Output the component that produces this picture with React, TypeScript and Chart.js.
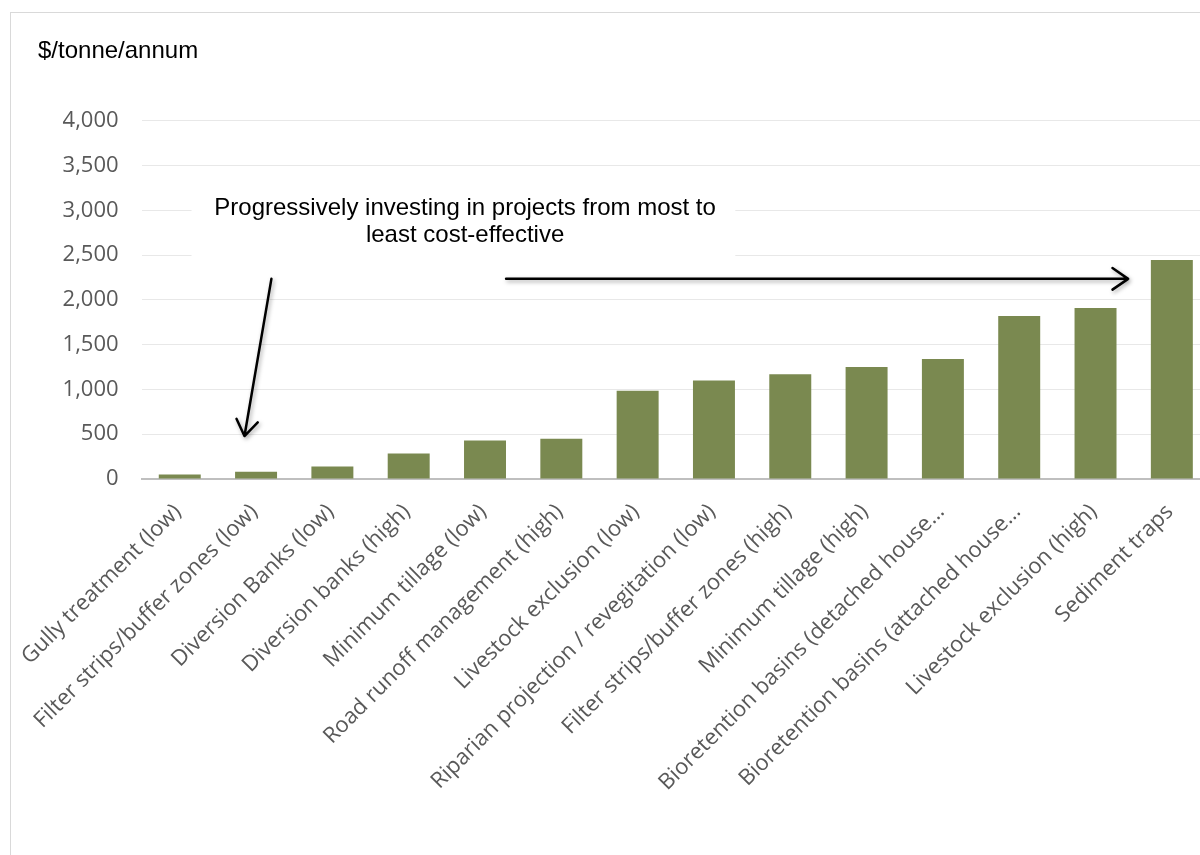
import React, { useEffect, useRef } from 'react';
import { Chart, registerables } from 'chart.js';

Chart.register(...registerables);

const categories = [
  'Gully treatment (low)',
  'Filter strips/buffer zones (low)',
  'Diversion Banks (low)',
  'Diversion banks (high)',
  'Minimum tillage (low)',
  'Road runoff management (high)',
  'Livestock exclusion (low)',
  'Riparian projection / revegitation (low)',
  'Filter strips/buffer zones (high)',
  'Minimum tillage (high)',
  'Bioretention basins (detached house…',
  'Bioretention basins (attached house…',
  'Livestock exclusion (high)',
  'Sediment traps',
];

const costValues = [50, 80, 140, 285, 430, 450, 985, 1100, 1170, 1250, 1340, 1820, 1910, 2445];

const yMin = 0;
const yMax = 4000;
const yStep = 500;

const unitTitle = '$/tonne/annum';
const annotationLines = ['Progressively investing in projects from most to', 'least cost-effective'];

const CANVAS_W = 1230;
const CANVAS_H = 842;
const AREA_BOTTOM = 466;

const annotationPlugin = {
  id: 'costAnnotation',
  beforeDatasetsDraw(chart: any) {
    const { ctx, scales } = chart;
    const x = scales.x;
    const y = scales.y;
    ctx.save();
    const bx0 = x.getPixelForValue(0.154);
    const bx1 = x.getPixelForValue(7.28);
    const by0 = y.getPixelForValue(3330);
    const by1 = y.getPixelForValue(2413);
    ctx.fillStyle = '#ffffff';
    ctx.fillRect(bx0, by0, bx1 - bx0, by1 - by0);
    ctx.fillStyle = '#000000';
    ctx.font = '24px "Liberation Sans", Arial, sans-serif';
    ctx.textAlign = 'center';
    ctx.textBaseline = 'middle';
    const tx = x.getPixelForValue(3.739);
    ctx.fillText(annotationLines[0], tx, y.getPixelForValue(3017));
    ctx.fillText(annotationLines[1], tx, y.getPixelForValue(2726));
    ctx.restore();
  },
  afterDatasetsDraw(chart: any) {
    const { ctx, scales } = chart;
    const x = scales.x;
    const y = scales.y;
    const drawArrow = (x0: number, y0: number, x1: number, y1: number) => {
      const ang = Math.atan2(y1 - y0, x1 - x0);
      const head = 19;
      const spread = Math.PI / 5.2;
      ctx.save();
      ctx.strokeStyle = '#000000';
      ctx.lineWidth = 2.5;
      ctx.lineCap = 'round';
      ctx.lineJoin = 'round';
      ctx.shadowColor = 'rgba(0,0,0,0.35)';
      ctx.shadowBlur = 4;
      ctx.shadowOffsetX = 1.5;
      ctx.shadowOffsetY = 2;
      ctx.beginPath();
      ctx.moveTo(x0, y0);
      ctx.lineTo(x1, y1);
      ctx.moveTo(x1 - head * Math.cos(ang - spread), y1 - head * Math.sin(ang - spread));
      ctx.lineTo(x1, y1);
      ctx.lineTo(x1 - head * Math.cos(ang + spread), y1 - head * Math.sin(ang + spread));
      ctx.stroke();
      ctx.restore();
    };
    drawArrow(x.getPixelForValue(1.201), y.getPixelForValue(2235), x.getPixelForValue(0.848), y.getPixelForValue(480));
    drawArrow(x.getPixelForValue(4.276), y.getPixelForValue(2235), x.getPixelForValue(12.427), y.getPixelForValue(2235));
  },
};

export default function App() {
  const canvasRef = useRef<HTMLCanvasElement | null>(null);

  useEffect(() => {
    if (!canvasRef.current) return;
    const chart = new Chart(canvasRef.current, {
      type: 'bar',
      data: {
        labels: categories,
        datasets: [
          {
            data: costValues,
            backgroundColor: '#7A8950',
            borderWidth: 0,
            barPercentage: 0.55,
            categoryPercentage: 1,
          },
        ],
      },
      options: {
        responsive: false,
        animation: false,
        devicePixelRatio: 1,
        layout: { padding: { left: 27, right: 31, top: 0, bottom: 0 } },
        plugins: {
          legend: { display: false },
          tooltip: { enabled: false },
          title: {
            display: true,
            text: unitTitle,
            align: 'start',
            color: '#000000',
            font: { family: '"Liberation Sans", Arial, sans-serif', size: 24, weight: 'normal' },
            padding: { top: 24, bottom: 55 },
          },
        },
        scales: {
          x: {
            grid: { display: false },
            border: { display: true, color: '#BFBFBF', width: 2 },
            ticks: {
              color: '#595959',
              font: { family: '"Open Sans", sans-serif', size: 22 },
              maxRotation: 45,
              minRotation: 45,
              autoSkip: false,
              padding: 12,
              labelOffset: -2,
            },
            afterFit: (scale: any) => {
              scale.height = CANVAS_H - AREA_BOTTOM;
            },
          },
          y: {
            min: yMin,
            max: yMax,
            grid: { color: '#E8E8E8', lineWidth: 1, drawTicks: false },
            border: { display: false },
            ticks: {
              stepSize: yStep,
              color: '#595959',
              font: { family: '"Open Sans", sans-serif', size: 22 },
              padding: 23,
              callback: (v: any) => Number(v).toLocaleString('en-US'),
            },
            afterFit: (scale: any) => {
              scale.width = 102;
            },
          },
        },
      },
      plugins: [annotationPlugin],
    });
    return () => chart.destroy();
  }, []);

  return (
    <div
      style={{
        position: 'fixed',
        left: 0,
        top: 0,
        width: 1200,
        height: 855,
        overflow: 'hidden',
        background: '#ffffff',
      }}
    >
      <div
        style={{
          position: 'absolute',
          left: 10,
          top: 12,
          width: 1260,
          height: 900,
          border: '1px solid #D9D9D9',
          background: '#ffffff',
        }}
      >
        <canvas
          ref={canvasRef}
          width={CANVAS_W}
          height={CANVAS_H}
          style={{ position: 'absolute', left: 0, top: 0, width: CANVAS_W, height: CANVAS_H }}
        />
      </div>
    </div>
  );
}
